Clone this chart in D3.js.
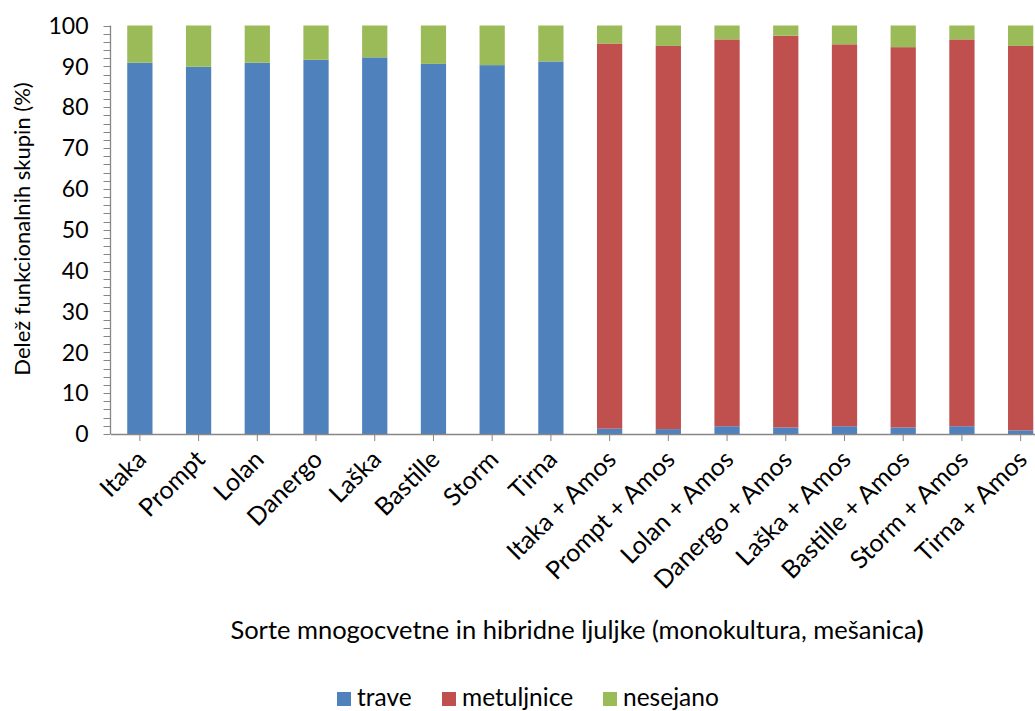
<!DOCTYPE html>
<html>
<head>
<meta charset="utf-8">
<script src="https://cdn.jsdelivr.net/npm/d3@7"></script>
<style>
  html, body { margin: 0; padding: 0; background: #fff; overflow: hidden; }
  text { font-family: Lato, "Open Sans", sans-serif; fill: #000; }
</style>
</head>
<body>
<svg id="chart" width="1035" height="711"></svg>
<script>
// Cultivars (monocultures) and their mixtures with Amos clover
const categories = [
  "Itaka", "Prompt", "Lolan", "Danergo", "Laška", "Bastille", "Storm", "Tirna",
  "Itaka + Amos", "Prompt + Amos", "Lolan + Amos", "Danergo + Amos",
  "Laška + Amos", "Bastille + Amos", "Storm + Amos", "Tirna + Amos"
];
const seriesNames = ["trave", "metuljnice", "nesejano"];
// Share of functional groups (%)
const trave      = [90.9, 89.9, 90.9, 91.6, 92.2, 90.6, 90.3, 91.2, 1.3, 1.2, 1.9, 1.6, 1.9, 1.6, 1.9, 0.9];
const metuljnice = [0, 0, 0, 0, 0, 0, 0, 0, 94.3, 93.8, 94.7, 95.9, 93.5, 93.1, 94.7, 94.1];
const nesejano   = [9.1, 10.1, 9.1, 8.4, 7.8, 9.4, 9.7, 8.8, 4.4, 5.0, 3.4, 2.5, 4.6, 5.3, 3.4, 5.0];
const yTicks = [0, 10, 20, 30, 40, 50, 60, 70, 80, 90, 100];
const colors = ["#4F81BD", "#C0504D", "#9BBB59"];

const svg = d3.select("#chart");
const axisColor = "#868686";

const rows = categories.map((c, i) => ({
  cat: c, trave: trave[i], metuljnice: metuljnice[i], nesejano: nesejano[i]
}));
const stacked = d3.stack().keys(seriesNames)(rows);

const x = d3.scaleBand().domain(categories).range([110.5, 1050])
  .paddingInner(0.57).paddingOuter(0.285);
const y = d3.scaleLinear().domain([0, 100]).range([434, 25.5]);
const color = d3.scaleOrdinal().domain(seriesNames).range(colors);

// stacked bars
svg.append("g").selectAll("g").data(stacked).join("g")
  .attr("fill", d => color(d.key))
  .selectAll("rect").data(d => d).join("rect")
  .attr("x", d => x(d.data.cat))
  .attr("width", x.bandwidth())
  .attr("y", d => y(d[1]))
  .attr("height", d => y(d[0]) - y(d[1]));

// y axis: major ticks with labels, minor ticks every 2 %
const minor = d3.range(0, 101, 2);
const yAxisG = svg.append("g").attr("transform", "translate(110.5,0)");
yAxisG.selectAll("line.minor").data(minor).join("line")
  .attr("class", "minor")
  .attr("x1", -7).attr("x2", 0)
  .attr("y1", d => Math.round(y(d)) + 0.5).attr("y2", d => Math.round(y(d)) + 0.5)
  .attr("stroke", axisColor).attr("stroke-width", 1);
yAxisG.append("line")
  .attr("x1", 0).attr("x2", 0).attr("y1", y(100)).attr("y2", y(0))
  .attr("stroke", axisColor).attr("stroke-width", 1.3);
yAxisG.selectAll("text").data(yTicks).join("text")
  .attr("x", -22).attr("y", d => y(d))
  .attr("dy", "0.36em")
  .attr("text-anchor", "end")
  .style("font-size", "23px")
  .text(d => d);

// x axis
const xAxis = d3.axisBottom(x).tickSize(7).tickSizeOuter(0).tickPadding(0);
const xAxisG = svg.append("g").attr("transform", `translate(0,${y(0)})`).call(xAxis);
xAxisG.select(".domain").attr("stroke", axisColor).attr("stroke-width", 1.3);
xAxisG.selectAll(".tick line").attr("stroke", axisColor);
xAxisG.selectAll(".tick text")
  .attr("text-anchor", "end")
  .attr("dy", 0).attr("y", 0)
  .attr("transform", "translate(8,27) rotate(-45)")
  .style("font-size", "25px")
  .style("font-family", "Lato, sans-serif")
  .attr("fill", "#000");

// axis titles
svg.append("text")
  .attr("transform", `translate(30,229) rotate(-90)`)
  .attr("text-anchor", "middle")
  .style("font-size", "22px")
  .text("Delež funkcionalnih skupin (%)");

const xt = svg.append("text")
  .attr("x", 577).attr("y", 639)
  .attr("text-anchor", "middle")
  .style("font-size", "25.5px");
xt.append("tspan").text("Sorte mnogocvetne in hibridne ljuljke (monokultura, mešanica");
xt.append("tspan").style("font-weight", "bold").text(")");

// legend
const legendItems = [
  { name: "trave", x: 337 },
  { name: "metuljnice", x: 442 },
  { name: "nesejano", x: 603 }
];
const lg = svg.append("g").selectAll("g").data(legendItems).join("g")
  .attr("transform", d => `translate(${d.x},692)`);
lg.append("rect").attr("width", 14).attr("height", 14).attr("fill", d => color(d.name));
lg.append("text").attr("x", 20).attr("y", 14)
  .style("font-size", "24.5px").text(d => d.name);
</script>
</body>
</html>
